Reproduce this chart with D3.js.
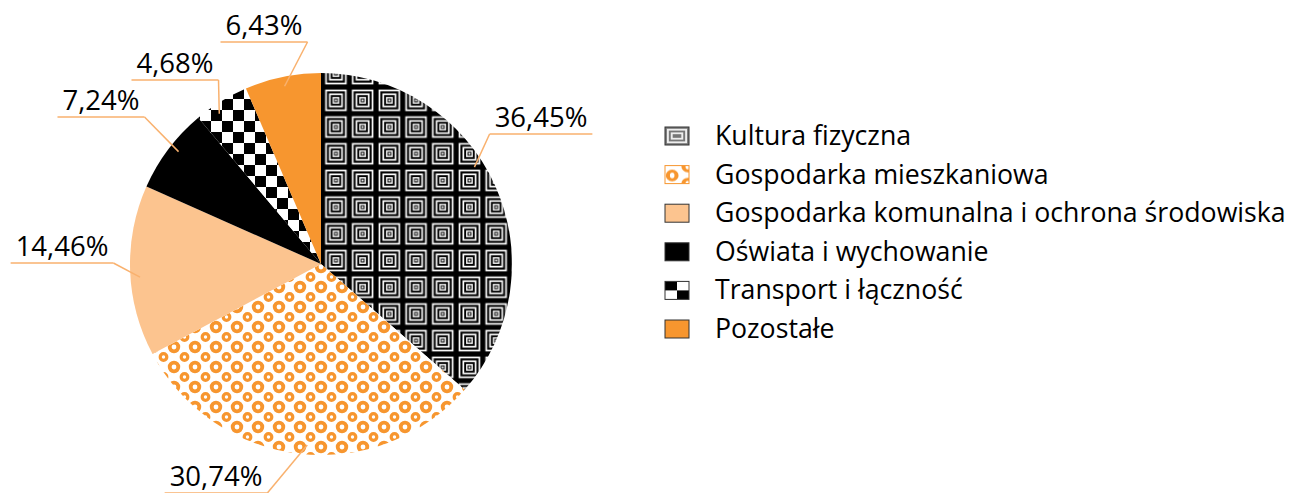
<!DOCTYPE html>
<html>
<head>
<meta charset="utf-8">
<script src="https://cdn.jsdelivr.net/npm/d3@7"></script>
<style>
  body { margin: 0; background: #fff; }
  svg text { font-family: "Open Sans", "Noto Sans", sans-serif; fill: #000; }
</style>
</head>
<body>
<div id="container"></div>
<script>
const categories = [
    "Kultura fizyczna",
    "Gospodarka mieszkaniowa",
    "Gospodarka komunalna i ochrona środowiska",
    "Oświata i wychowanie",
    "Transport i łączność",
    "Pozostałe"
]
const values = [36.45, 30.74, 14.46, 7.24, 4.68, 6.43]
const fills = ["url(#squares)", "url(#rings)", "#fcc48f", "#000000", "url(#checker)", "#f7962f"]

// label layout: text centre x, y of the underline, where on the slice the leader starts
const labelX = [541, 216, 62, 101, 175, 264]
const labelLineY = [134, 493, 263, 117, 80, 42]
const anchorFrac = [0.44, 0.48, 0.46, 0.55, 0.35, 0.5]

const width = 1293
const height = 493
const cx = 321
const cy = 264
const radius = 191
const orange = "#f7962f"
const leaderColor = "#f9b16e"

const svg = d3.select('#container')
    .append('svg').attr('width', width).attr('height', height)

const defs = svg.append("defs")

// concentric squares
const sq = 26.7
const squares = defs.append("pattern")
    .attr("id", "squares")
    .attr("patternUnits", "userSpaceOnUse")
    .attr("x", 322).attr("y", 90)
    .attr("width", sq).attr("height", sq)
const insets = [0, 2.6, 4.3, 6.4, 8.1, 10.0, 11.4, 12.4]
insets.forEach((ins, i) => {
    squares.append("rect")
        .attr("x", ins).attr("y", ins)
        .attr("width", sq - 2 * ins).attr("height", sq - 2 * ins)
        .attr("fill", i % 2 === 0 ? "#000" : "#fff")
})

// orange rings
const rings = defs.append("pattern")
    .attr("id", "rings")
    .attr("patternUnits", "userSpaceOnUse")
    .attr("x", 0).attr("y", 3)
    .attr("width", 21).attr("height", 20)
rings.append("rect").attr("width", 21).attr("height", 20).attr("fill", "#fff")
const bigRings = [[0, 0], [21, 0], [0, 20], [21, 20]]
bigRings.forEach(p => {
    rings.append("circle").attr("cx", p[0]).attr("cy", p[1]).attr("r", 4.3)
        .attr("fill", "none").attr("stroke", orange).attr("stroke-width", 3.8)
})
rings.append("circle").attr("cx", 10.5).attr("cy", 10).attr("r", 3.3)
    .attr("fill", "none").attr("stroke", orange).attr("stroke-width", 3.2)

// checkerboard
const checker = defs.append("pattern")
    .attr("id", "checker")
    .attr("patternUnits", "userSpaceOnUse")
    .attr("x", 0).attr("y", 0)
    .attr("width", 22).attr("height", 22)
checker.append("rect").attr("width", 22).attr("height", 22).attr("fill", "#fff")
checker.append("rect").attr("width", 11).attr("height", 11).attr("fill", "#000")
checker.append("rect").attr("x", 11).attr("y", 11).attr("width", 11).attr("height", 11).attr("fill", "#000")

// small legend versions
const legSquares = defs.append("pattern")
    .attr("id", "legSquares")
    .attr("patternUnits", "objectBoundingBox")
    .attr("patternContentUnits", "objectBoundingBox")
    .attr("width", 1).attr("height", 1)
const legInsets = [0, 0.1, 0.2, 0.3, 0.4]
legInsets.forEach((ins, i) => {
    legSquares.append("rect")
        .attr("x", ins * 0.8).attr("y", ins)
        .attr("width", 1 - 2 * ins * 0.8).attr("height", 1 - 2 * ins)
        .attr("fill", i % 2 === 0 ? "#777" : "#eee")
})

const legChecker = defs.append("pattern")
    .attr("id", "legChecker")
    .attr("patternUnits", "objectBoundingBox")
    .attr("patternContentUnits", "objectBoundingBox")
    .attr("width", 1).attr("height", 1)
legChecker.append("rect").attr("width", 1).attr("height", 1).attr("fill", "#fff")
legChecker.append("rect").attr("width", 0.5).attr("height", 0.5).attr("fill", "#000")
legChecker.append("rect").attr("x", 0.5).attr("y", 0.5).attr("width", 0.5).attr("height", 0.5).attr("fill", "#000")

const legRings = defs.append("pattern")
    .attr("id", "legRings")
    .attr("patternUnits", "objectBoundingBox")
    .attr("patternContentUnits", "objectBoundingBox")
    .attr("width", 1).attr("height", 1)
legRings.append("rect").attr("width", 1).attr("height", 1).attr("fill", "#fff")
const legRingPts = [[0.3, 0.55, 0.24], [0.95, 0.05, 0.24], [0.95, 1.0, 0.24]]
legRingPts.forEach(p => {
    legRings.append("ellipse").attr("cx", p[0]).attr("cy", p[1])
        .attr("rx", p[2] * 0.75).attr("ry", p[2])
        .attr("fill", "none").attr("stroke", orange).attr("stroke-width", 0.17)
})
const legendFills = ["url(#legSquares)", "url(#legRings)", "#fcc48f", "#000000", "url(#legChecker)", "#f7962f"]

// pie
const pie = d3.pie().sort(null).value(d => d)
const arcs = pie(values)
const arc = d3.arc().innerRadius(0).outerRadius(radius)

const g = svg.append("g").attr("transform", `translate(${cx},${cy})`)
g.selectAll("path.slice")
    .data(arcs)
    .enter().append("path")
    .attr("class", "slice")
    .attr("d", arc)
    .attr("fill", (d, i) => fills[i])

// labels with leader lines
const fmt = v => d3.format(".2f")(v).replace(".", ",") + "%"
const labels = svg.append("g")
arcs.forEach((d, i) => {
    const a = d.startAngle + (d.endAngle - d.startAngle) * anchorFrac[i]
    const ax = cx + Math.sin(a) * radius * 0.95
    const ay = cy - Math.cos(a) * radius * 0.95
    const lineY = labelLineY[i]
    const t = labels.append("text")
        .attr("x", labelX[i])
        .attr("y", lineY - 7)
        .attr("text-anchor", "middle")
        .attr("font-size", 27.5)
        .text(fmt(values[i]))
    const bb = t.node().getBBox()
    const x0 = bb.x - 5
    const x1 = bb.x + bb.width + 5
    const ex = ax > labelX[i] ? x1 : x0
    labels.append("path")
        .attr("d", d3.line()([[x0, lineY], [x1, lineY]]))
        .attr("stroke", leaderColor).attr("stroke-width", 1.5).attr("fill", "none")
    labels.append("path")
        .attr("d", d3.line()([[ex, lineY], [ax, ay]]))
        .attr("stroke", leaderColor).attr("stroke-width", 1.5).attr("fill", "none")
})

// legend
const legendX = 665
const legendY = 136
const legendStep = 38.6
const legend = svg.append("g")
categories.forEach((c, i) => {
    const y = legendY + i * legendStep
    legend.append("rect")
        .attr("x", legendX).attr("y", y - 9)
        .attr("width", 24).attr("height", 18)
        .attr("fill", legendFills[i])
        .attr("stroke", i === 1 ? orange : "#333")
        .attr("stroke-width", 1)
    legend.append("text")
        .attr("x", 715).attr("y", y + 9)
        .attr("font-size", 26.7)
        .text(c)
})
</script>
</body>
</html>
